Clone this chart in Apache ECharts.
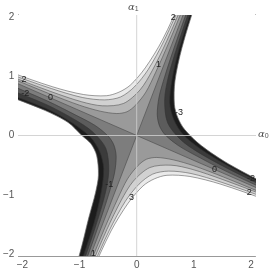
<!DOCTYPE html>
<html><head><meta charset="utf-8">
<script src="https://cdn.jsdelivr.net/npm/echarts@6/dist/echarts.min.js"></script>
<style>html,body{margin:0;padding:0;background:#fff}#c{width:273px;height:271px}</style>
</head><body><div id="c"></div>
<script>
// ---- contour curves, points are [alpha0, alpha1] ----
const zeroL1 = [[-3.5,1.47],[3.5,-1.47]];
const zeroL2 = [[-1.4,-3.5],[1.4,3.5]];
const ul1 = [[-3.42,1.46],[-2.30,1.01],[-1.52,0.70],[-1.00,0.51],[-0.64,0.41],[-0.35,0.37],[-0.17,0.40],[-0.02,0.51],[0.16,0.73],[0.33,1.06],[0.56,1.56],[0.89,2.33],[1.35,3.43]];
const ul2 = [[-3.41,1.48],[-2.29,1.03],[-1.50,0.74],[-0.97,0.57],[-0.60,0.50],[-0.23,0.54],[0.06,0.77],[0.27,1.09],[0.52,1.58],[0.86,2.34],[1.33,3.44]];
const ul3 = [[-3.40,1.50],[-2.28,1.06],[-1.49,0.79],[-0.95,0.64],[-0.56,0.60],[-0.28,0.65],[-0.04,0.82],[0.20,1.11],[0.48,1.60],[0.83,2.35],[1.31,3.45]];
const ulB = [[-3.39,1.52],[-2.27,1.09],[-1.47,0.82],[-0.93,0.69],[-0.53,0.67],[-0.31,0.73],[-0.11,0.85],[0.15,1.14],[0.45,1.61],[0.81,2.36],[1.29,3.46]];
const lr1 = [[3.42,-1.46],[2.30,-1.01],[1.52,-0.70],[1.00,-0.51],[0.64,-0.41],[0.35,-0.37],[0.17,-0.40],[0.02,-0.51],[-0.16,-0.73],[-0.33,-1.06],[-0.56,-1.56],[-0.89,-2.33],[-1.35,-3.43]];
const lr2 = [[3.41,-1.48],[2.29,-1.03],[1.50,-0.74],[0.97,-0.57],[0.60,-0.50],[0.23,-0.54],[-0.06,-0.77],[-0.27,-1.09],[-0.52,-1.58],[-0.86,-2.34],[-1.33,-3.44]];
const lr3 = [[3.40,-1.50],[2.28,-1.06],[1.49,-0.79],[0.95,-0.64],[0.56,-0.60],[0.28,-0.65],[0.04,-0.82],[-0.20,-1.11],[-0.48,-1.60],[-0.83,-2.35],[-1.31,-3.45]];
const lrB = [[3.39,-1.52],[2.27,-1.09],[1.47,-0.82],[0.93,-0.69],[0.53,-0.67],[0.31,-0.73],[0.11,-0.85],[-0.15,-1.14],[-0.45,-1.61],[-0.81,-2.36],[-1.29,-3.46]];
const ur1 = [[3.43,-1.41],[2.33,-0.94],[1.56,-0.60],[1.06,-0.35],[0.73,-0.17],[0.50,0.01],[0.40,0.16],[0.36,0.35],[0.39,0.64],[0.49,0.99],[0.67,1.52],[0.96,2.30],[1.39,3.41]];
const ur2 = [[3.44,-1.40],[2.34,-0.91],[1.58,-0.55],[1.09,-0.29],[0.77,-0.07],[0.54,0.22],[0.49,0.60],[0.55,0.97],[0.71,1.50],[0.99,2.29],[1.41,3.41]];
const ur3 = [[3.45,-1.38],[2.35,-0.88],[1.60,-0.51],[1.11,-0.22],[0.81,0.02],[0.65,0.27],[0.58,0.55],[0.62,0.94],[0.75,1.48],[1.02,2.27],[1.43,3.40]];
const urB = [[3.46,-1.36],[2.36,-0.86],[1.61,-0.48],[1.13,-0.17],[0.84,0.10],[0.72,0.30],[0.66,0.52],[0.67,0.92],[0.79,1.47],[1.04,2.26],[1.45,3.39]];
const ll1 = [[-3.43,1.38],[-2.33,0.90],[-1.56,0.58],[-1.06,0.34],[-0.73,0.17],[-0.50,-0.01],[-0.40,-0.16],[-0.36,-0.35],[-0.39,-0.64],[-0.49,-0.99],[-0.67,-1.52],[-0.96,-2.30],[-1.39,-3.41]];
const ll2 = [[-3.44,1.30],[-2.34,0.82],[-1.58,0.52],[-1.09,0.27],[-0.77,0.06],[-0.54,-0.22],[-0.49,-0.60],[-0.55,-0.97],[-0.71,-1.50],[-0.99,-2.29],[-1.41,-3.41]];
const ll3 = [[-3.45,1.22],[-2.35,0.74],[-1.60,0.46],[-1.11,0.20],[-0.81,-0.03],[-0.65,-0.27],[-0.58,-0.55],[-0.62,-0.94],[-0.75,-1.48],[-1.02,-2.27],[-1.43,-3.40]];
const llB = [[-3.46,1.12],[-2.07,0.60],[-1.60,0.42],[-1.20,0.22],[-0.96,0.00],[-0.80,-0.14],[-0.70,-0.34],[-0.67,-0.67],[-0.72,-0.96],[-0.84,-1.39],[-1.00,-2.00],[-1.45,-3.39]];

const contourLabels = [
  [-1.97,0.94,'2'],[-1.51,0.64,'0'],[-1.95,0.70,'-2'],
  [0.64,1.98,'2'],[0.38,1.19,'1'],[0.74,0.39,'-3'],
  [1.36,-0.57,'0'],[2.0,-0.72,'-2'],[1.97,-0.96,'2'],
  [-0.48,-0.82,'-1'],[-0.09,-1.04,'3'],[-0.76,-1.98,'1']
];
const majorTicks = [-2,-1,0,1,2];
const minorTicks = [-1.8,-1.6,-1.4,-1.2,-0.8,-0.6,-0.4,-0.2,0.2,0.4,0.6,0.8,1.2,1.4,1.6,1.8];

const bandLow = ['#1c1c1c','#3b3b3b','#5c5c5c','#7d7d7d'];
const bandHigh = ['#9a9a9a','#b6b6b6','#d1d1d1','#eaeaea'];

const F = 3.5;
const fills = [
  {pts: [[-F,-F],[F,-F],[F,F],[-F,F]], color: bandLow[3], smooth: 0},
  {pts: [[0,0], zeroL2[1], [-F,F], zeroL1[0]], color: bandHigh[0], smooth: 0},
  {pts: [[0,0], zeroL2[0], [F,-F], zeroL1[1]], color: bandHigh[0], smooth: 0},
  {pts: ul1.concat([[-F,F]]), color: bandHigh[1]},
  {pts: ul2.concat([[-F,F]]), color: bandHigh[2]},
  {pts: ul3.concat([[-F,F]]), color: bandHigh[3]},
  {pts: ulB.concat([[-F,F]]), color: '#ffffff'},
  {pts: lr1.concat([[F,-F]]), color: bandHigh[1]},
  {pts: lr2.concat([[F,-F]]), color: bandHigh[2]},
  {pts: lr3.concat([[F,-F]]), color: bandHigh[3]},
  {pts: lrB.concat([[F,-F]]), color: '#ffffff'},
  {pts: ur1.concat([[F,F]]), color: bandLow[2]},
  {pts: ur2.concat([[F,F]]), color: bandLow[1]},
  {pts: ur3.concat([[F,F]]), color: bandLow[0]},
  {pts: urB.concat([[F,F]]), color: '#ffffff'},
  {pts: ll1.concat([[-F,-F]]), color: bandLow[2]},
  {pts: ll2.concat([[-F,-F]]), color: bandLow[1]},
  {pts: ll3.concat([[-F,-F]]), color: bandLow[0]},
  {pts: llB.concat([[-F,-F]]), color: '#ffffff'}
];
const lines = [zeroL1, zeroL2, ul1, ul2, ul3, ulB, lr1, lr2, lr3, lrB, ur1, ur2, ur3, urB, ll1, ll2, ll3, llB];
const axisLines = [[[-F,0],[F,0]], [[0,-F],[0,F]]];

const XR = 2.07, YR = 2.03;
const labelFont = {fontFamily: 'Liberation Sans', fontSize: 10, color: '#555'};
const fmt = v => (v < 0 ? '\u2212' + Math.abs(v) : '' + v);
function ax(pos, range, ticks, len, showLabel) {
  return {type: 'value', position: pos, min: -range, max: range, gridIndex: 0,
    axisLine: {show: true, onZero: false, lineStyle: {color: '#999', width: 1}},
    axisTick: {show: true, inside: true, length: len, customValues: ticks, lineStyle: {color: '#999'}},
    axisLabel: {show: showLabel, customValues: majorTicks, formatter: fmt, margin: 4, ...labelFont},
    splitLine: {show: false}};
}

const chart = echarts.init(document.getElementById('c'), null, {renderer: 'canvas'});
chart.setOption({
  animation: false,
  backgroundColor: '#fff',
  grid: {left: 13, top: 15, width: 242, height: 241, containLabel: false},
  xAxis: [ax('bottom', XR, majorTicks, 4, true), ax('bottom', XR, minorTicks, 2.5, false),
          ax('top', XR, majorTicks, 4, false), ax('top', XR, minorTicks, 2.5, false)],
  yAxis: [ax('left', YR, majorTicks, 4, true), ax('left', YR, minorTicks, 2.5, false),
          ax('right', YR, majorTicks, 4, false), ax('right', YR, minorTicks, 2.5, false)],
  graphic: [
    {type: 'text', left: 128, top: 2, style: {text: '{a|\u03b1}{s|1}', rich: {a: {fontFamily: 'DejaVu Serif', fontStyle: 'italic', fontSize: 10, fill: '#555'}, s: {fontFamily: 'Liberation Sans', fontSize: 7, fill: '#555', padding: [5,0,0,0]}}}},
    {type: 'text', left: 258, top: 129, style: {text: '{a|\u03b1}{s|0}', rich: {a: {fontFamily: 'DejaVu Serif', fontStyle: 'italic', fontSize: 10, fill: '#555'}, s: {fontFamily: 'Liberation Sans', fontSize: 7, fill: '#555', padding: [5,0,0,0]}}}}
  ],
  series: [
    {type: 'custom', coordinateSystem: 'cartesian2d', xAxisIndex: 0, yAxisIndex: 0, clip: true, silent: true,
     data: fills.map(() => [0, 0]),
     renderItem: (params, api) => {
       const r = fills[params.dataIndex];
       return {type: 'polygon', shape: {points: r.pts.map(p => api.coord(p)), smooth: r.smooth === 0 ? 0 : 0.3},
               style: {fill: r.color, stroke: r.color, lineWidth: 0.3}};
     }},
    {type: 'custom', coordinateSystem: 'cartesian2d', xAxisIndex: 0, yAxisIndex: 0, clip: true, silent: true,
     data: lines.map(() => [0, 0]),
     renderItem: (params, api) => {
       const l = lines[params.dataIndex];
       return {type: 'polyline', shape: {points: l.map(p => api.coord(p)), smooth: l.length > 2 ? 0.3 : 0},
               style: {stroke: 'rgba(50,50,50,0.6)', lineWidth: 0.8, fill: null}};
     }},
    {type: 'custom', coordinateSystem: 'cartesian2d', xAxisIndex: 0, yAxisIndex: 0, clip: true, silent: true,
     data: axisLines.map(() => [0, 0]),
     renderItem: (params, api) => {
       const l = axisLines[params.dataIndex];
       const a = api.coord(l[0]), b = api.coord(l[1]);
       return {type: 'line', shape: {x1: a[0], y1: a[1], x2: b[0], y2: b[1]},
               style: {stroke: 'rgba(205,205,205,0.85)', lineWidth: 1}};
     }},
    {type: 'custom', coordinateSystem: 'cartesian2d', xAxisIndex: 0, yAxisIndex: 0, clip: false, silent: true,
     data: contourLabels.map(d => [d[0], d[1]]),
     renderItem: (params, api) => {
       const d = contourLabels[params.dataIndex];
       const c = api.coord([d[0], d[1]]);
       return {type: 'text', x: c[0], y: c[1],
               style: {text: d[2], fill: '#222', font: '9px "Liberation Sans"', align: 'center', verticalAlign: 'middle'}};
     }}
  ]
});
</script></body></html>
